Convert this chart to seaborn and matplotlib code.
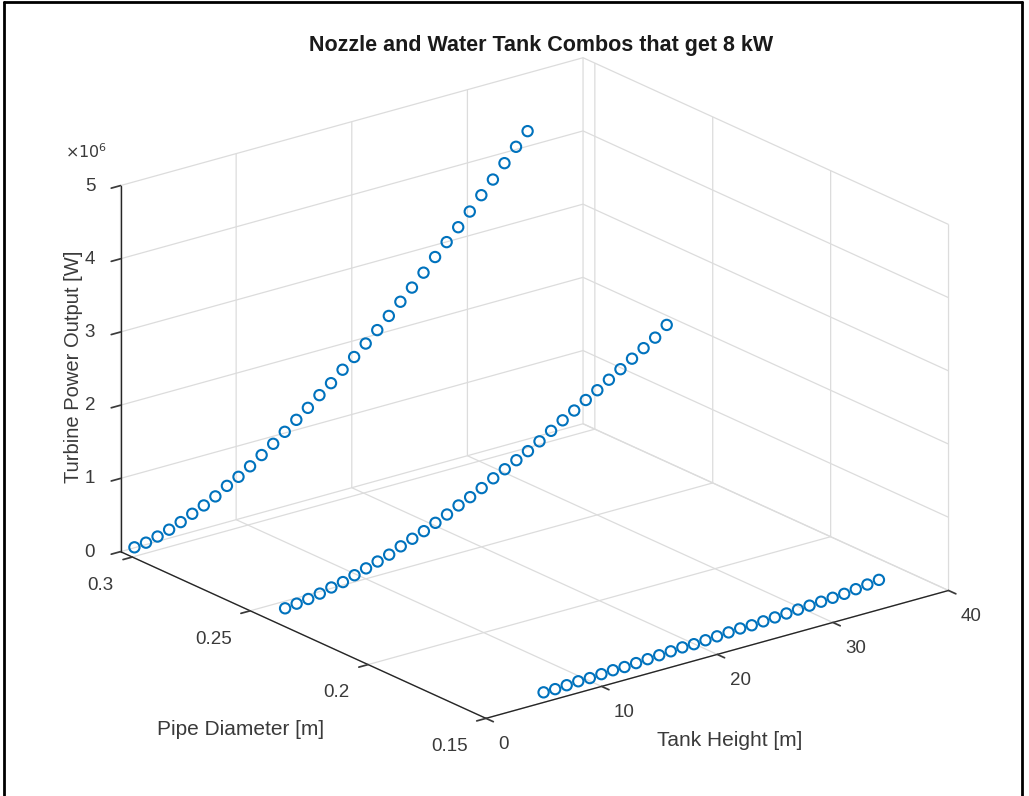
import matplotlib
matplotlib.use("Agg")
import pandas as pd
import matplotlib.pyplot as plt
import matplotlib.ticker as mtick
import seaborn as sns

# tank heights [m] of each series
height_a = list(range(1, 36))
height_b = list(range(2, 36))
height_c = list(range(6, 36))

# pipe diameter [m] of each series
diam_a = 0.304
diam_b = 0.245
diam_c = 0.155

# turbine power output [x10^6 W]
power_a = [0.03, 0.05, 0.09, 0.14, 0.20, 0.27, 0.34, 0.42, 0.52, 0.60,
           0.70, 0.81, 0.92, 1.04, 1.16, 1.28, 1.41, 1.53, 1.67, 1.80,
           1.94, 2.08, 2.23, 2.38, 2.53, 2.69, 2.86, 3.02, 3.18, 3.35,
           3.53, 3.70, 3.88, 4.06, 4.23]
power_b = [0.02, 0.04, 0.06, 0.09, 0.13, 0.16, 0.21, 0.26, 0.31, 0.36,
           0.43, 0.49, 0.55, 0.62, 0.69, 0.77, 0.84, 0.92, 1.01, 1.09,
           1.17, 1.25, 1.34, 1.44, 1.54, 1.63, 1.73, 1.82, 1.92, 2.02,
           2.12, 2.22, 2.32, 2.45]
power_c = [0.02, 0.02, 0.03, 0.04, 0.04, 0.05, 0.06, 0.06, 0.07, 0.08,
           0.09, 0.10, 0.11, 0.11, 0.12, 0.13, 0.14, 0.15, 0.15, 0.16,
           0.17, 0.18, 0.19, 0.20, 0.21, 0.22, 0.23, 0.25, 0.27, 0.29]

x_ticks = [0, 10, 20, 30, 40]
y_ticks = [0.15, 0.2, 0.25, 0.3]
z_ticks = [0, 1e6, 2e6, 3e6, 4e6, 5e6]

rows = []
for h, p in zip(height_a, power_a):
    rows.append((h, diam_a, p * 1e6))
for h, p in zip(height_b, power_b):
    rows.append((h, diam_b, p * 1e6))
for h, p in zip(height_c, power_c):
    rows.append((h, diam_c, p * 1e6))
df = pd.DataFrame(rows, columns=["height", "diameter", "power"])

sns.set_theme(style="white", rc={"grid.color": "#dcdcdc", "grid.linewidth": 0.9})
plt.rcParams["font.family"] = ["Liberation Sans", "DejaVu Sans"]

blue = "#0072BD"
axis_col = "#262626"
text_col = "#3a3a3a"

fig = plt.figure(figsize=(10.29, 7.96), dpi=100)
ax = fig.add_axes([0.009, -0.001, 1.0, 1.0], projection="3d", proj_type="ortho")
ax.set_box_aspect((1.0, 1.015, 0.668), zoom=1.125)
ax.view_init(elev=20.8, azim=-127.9)

ax.scatter(df["height"], df["diameter"], df["power"], s=55, facecolors="none",
           edgecolors=blue, linewidths=1.5, depthshade=False)

ax.set_xlim(0, 40)
ax.set_ylim(0.15, 0.305)
ax.set_zlim(0, 5e6)
ax.set_xticks(x_ticks)
ax.set_yticks(y_ticks)
ax.set_zticks(z_ticks)
ax.zaxis.set_major_formatter(mtick.FuncFormatter(lambda v, pos: f"{v / 1e6:g}"))
ax.yaxis.set_major_formatter(mtick.FuncFormatter(lambda v, pos: f"{v:g}"))

ax.grid(True)
for axis in (ax.xaxis, ax.yaxis, ax.zaxis):
    axis.set_pane_color((1, 1, 1, 0))
    axis.pane.set_edgecolor("#dcdcdc")
    axis.line.set_color(axis_col)
    axis.line.set_linewidth(1.0)
    axis._axinfo["tick"]["inward_factor"] = 0.25
    axis._axinfo["tick"]["outward_factor"] = 0.0
    axis._axinfo["tick"]["color"] = axis_col
    axis.set_rotate_label(False)
ax.tick_params(labelsize=13.5, colors=text_col)
ax.tick_params(axis="z", pad=3)
ax.tick_params(axis="y", pad=4)
ax.tick_params(axis="x", pad=2)
for lab in ax.get_yticklabels():
    lab.set_ha("right")
for lab in ax.get_xticklabels():
    lab.set_ha("left")
for lab in ax.get_zticklabels():
    lab.set_va("center_baseline")

ax.set_zlabel("Turbine Power Output [W]", fontsize=14.5, color=text_col, rotation=90, labelpad=-4)
fig.text(0.234, 0.083, "Pipe Diameter [m]", ha="center", va="center", fontsize=15, color=text_col)
fig.text(0.709, 0.070, "Tank Height [m]", ha="center", va="center", fontsize=15, color=text_col)

fig.text(0.526, 0.943, "Nozzle and Water Tank Combos that get 8 kW", ha="center",
         va="center", fontsize=15.5, fontweight="bold", color="#1a1a1a")
fig.text(0.063, 0.81, r"$\times 10^{6}$", ha="left", va="center", fontsize=11.5, color=text_col)

# screenshot frame
for xs, ys in [((0.004, 0.004), (0.0, 0.997)), ((0.004, 0.993), (0.997, 0.997)),
               ((0.993, 0.993), (0.0, 0.997))]:
    fig.add_artist(plt.Line2D(xs, ys, color="black", linewidth=2))

fig.savefig("out.png", dpi=100)
